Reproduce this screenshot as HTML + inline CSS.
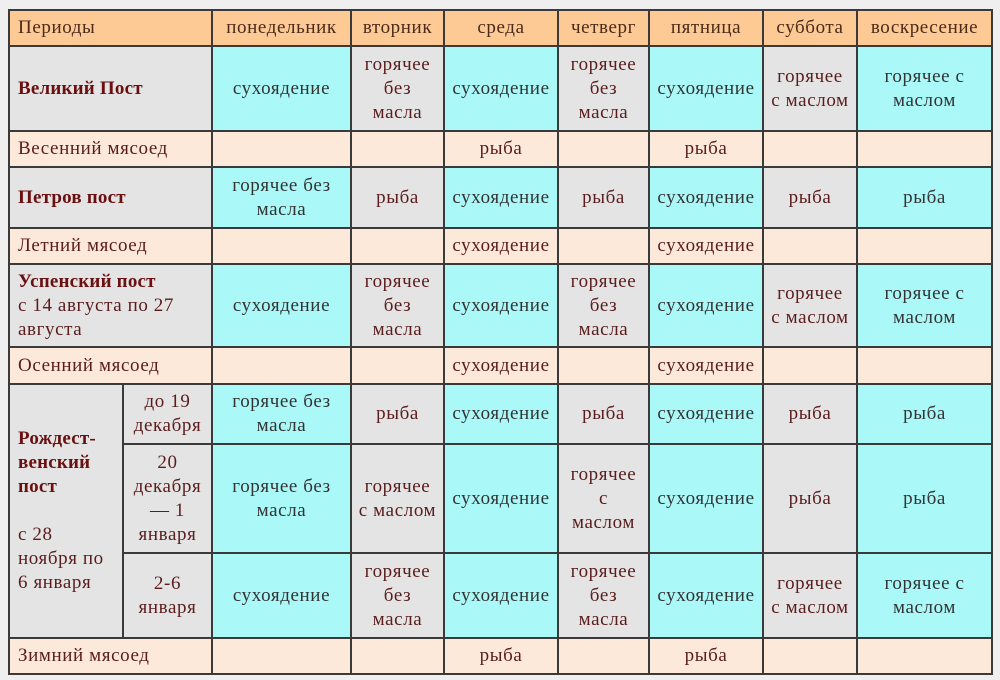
<!DOCTYPE html>
<html><head><meta charset="utf-8"><style>
html,body{margin:0;padding:0;background:#efefef;width:1000px;height:680px;overflow:hidden}
table{position:absolute;left:8px;top:9px;border-collapse:collapse;table-layout:fixed;font-family:"Liberation Serif","Noto Serif CJK SC",serif;font-size:19px;letter-spacing:0.6px;line-height:24px}
td{border:2px solid #3a3a3a;padding:0;text-align:center;vertical-align:middle;color:#5a1c1c;white-space:nowrap;overflow:hidden}
.h{background:#fdc994;color:#4a2a1a}
.h.l{text-align:left;padding-left:8px}
.g{background:#e4e4e4}
.c{background:#aaf8f8;color:#333}
.m{background:#fde9da}
.p{text-align:left;padding-left:8px}
.b{font-weight:bold;color:#6a1010;letter-spacing:0.2px}
</style></head><body>
<table>
<colgroup><col style="width:114px"><col style="width:89px"><col style="width:139px"><col style="width:93px"><col style="width:114px"><col style="width:91px"><col style="width:114px"><col style="width:94px"><col style="width:135px"></colgroup>
<tr style="height:36px"><td class="h l" colspan="2">Периоды</td><td class="h">понедельник</td><td class="h">вторник</td><td class="h">среда</td><td class="h">четверг</td><td class="h">пятница</td><td class="h">суббота</td><td class="h">воскресение</td></tr>
<tr style="height:85px"><td class="g p b" colspan="2">Великий Пост</td><td class="c">сухоядение</td><td class="g">горячее<br>без<br>масла</td><td class="c">сухоядение</td><td class="g">горячее<br>без<br>масла</td><td class="c">сухоядение</td><td class="g">горячее<br>с маслом</td><td class="c">горячее с<br>маслом</td></tr>
<tr style="height:36px"><td class="m p" colspan="2">Весенний мясоед</td><td class="m"></td><td class="m"></td><td class="m">рыба</td><td class="m"></td><td class="m">рыба</td><td class="m"></td><td class="m"></td></tr>
<tr style="height:61px"><td class="g p b" colspan="2">Петров пост</td><td class="c">горячее без<br>масла</td><td class="g">рыба</td><td class="c">сухоядение</td><td class="g">рыба</td><td class="c">сухоядение</td><td class="g">рыба</td><td class="c">рыба</td></tr>
<tr style="height:36px"><td class="m p" colspan="2">Летний мясоед</td><td class="m"></td><td class="m"></td><td class="m">сухоядение</td><td class="m"></td><td class="m">сухоядение</td><td class="m"></td><td class="m"></td></tr>
<tr style="height:83px"><td class="g p" colspan="2"><span class="b">Успенский пост</span><br>с 14 августа по 27<br>августа</td><td class="c">сухоядение</td><td class="g">горячее<br>без<br>масла</td><td class="c">сухоядение</td><td class="g">горячее<br>без<br>масла</td><td class="c">сухоядение</td><td class="g">горячее<br>с маслом</td><td class="c">горячее с<br>маслом</td></tr>
<tr style="height:37px"><td class="m p" colspan="2">Осенний мясоед</td><td class="m"></td><td class="m"></td><td class="m">сухоядение</td><td class="m"></td><td class="m">сухоядение</td><td class="m"></td><td class="m"></td></tr>
<tr style="height:60px"><td class="g p" rowspan="3"><span class="b">Рождест-<br>венский<br>пост</span><br><br>с 28<br>ноября по<br>6 января</td><td class="g">до 19<br>декабря</td><td class="c">горячее без<br>масла</td><td class="g">рыба</td><td class="c">сухоядение</td><td class="g">рыба</td><td class="c">сухоядение</td><td class="g">рыба</td><td class="c">рыба</td></tr>
<tr style="height:109px"><td class="g">20<br>декабря<br>— 1<br>января</td><td class="c">горячее без<br>масла</td><td class="g">горячее<br>с маслом</td><td class="c">сухоядение</td><td class="g">горячее<br>с<br>маслом</td><td class="c">сухоядение</td><td class="g">рыба</td><td class="c">рыба</td></tr>
<tr style="height:85px"><td class="g">2-6<br>января</td><td class="c">сухоядение</td><td class="g">горячее<br>без<br>масла</td><td class="c">сухоядение</td><td class="g">горячее<br>без<br>масла</td><td class="c">сухоядение</td><td class="g">горячее<br>с маслом</td><td class="c">горячее с<br>маслом</td></tr>
<tr style="height:36px"><td class="m p" colspan="2">Зимний мясоед</td><td class="m"></td><td class="m"></td><td class="m">рыба</td><td class="m"></td><td class="m">рыба</td><td class="m"></td><td class="m"></td></tr>
</table>
</body></html>
